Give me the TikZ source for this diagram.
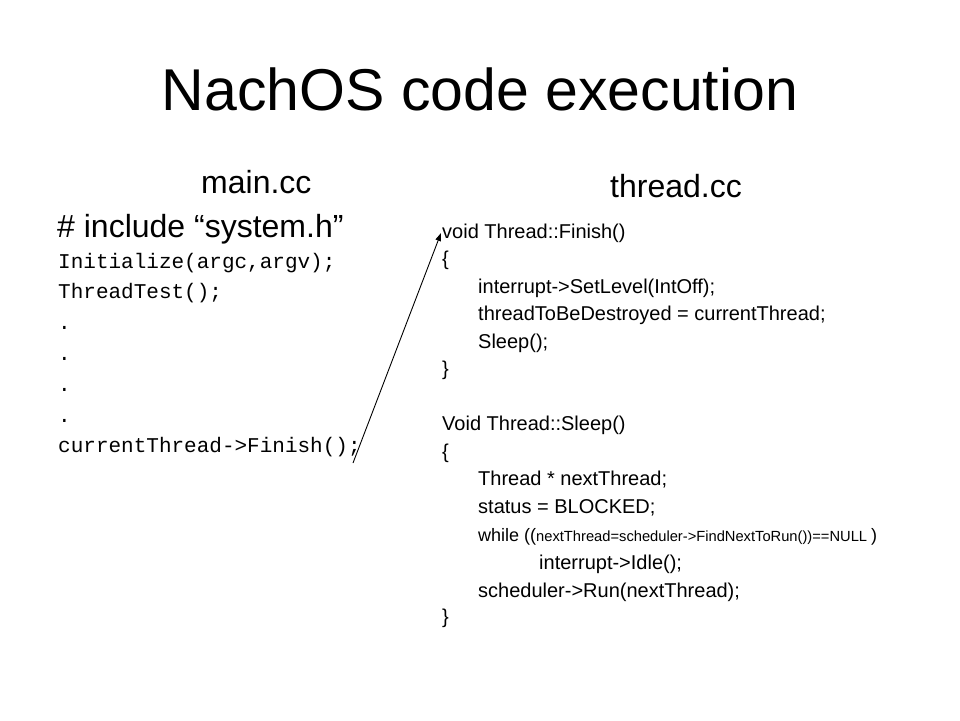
\documentclass[tikz,border=0pt]{standalone}
\usepackage{fontspec}
\setmainfont{Liberation Sans}
\setmonofont{Liberation Mono}
\usetikzlibrary{arrows.meta}
\begin{document}
\begin{tikzpicture}[x=1pt,y=-1pt,
  ttl/.style={anchor=base, inner sep=0pt, font=\fontsize{59}{70}\selectfont},
  head/.style={anchor=base west, inner sep=0pt, font=\fontsize{32}{38}\selectfont},
  code/.style={anchor=base west, inner sep=0pt, font=\ttfamily\fontsize{21}{25}\selectfont},
  rtxt/.style={anchor=base west, inner sep=0pt, font=\fontsize{20}{24}\selectfont},
  link/.style={line width=0.9pt, -{Triangle[length=8pt,width=5.5pt]}}]
\useasboundingbox (0,0) rectangle (960,720);
\fill[white] (0,0) rectangle (960,720);
% title
\node[ttl] (title) at (480,110) {NachOS code execution};
% left column
\node[head] (mainh) at (201,193) {main.cc};
\node[head] (incl) at (57,237) {\# include “system.h”};
\node[code] (l1) at (58,268) {Initialize(argc,argv);};
\node[code] (l2) at (58,298.8) {ThreadTest();};
\node[code] (l3) at (58,329.6) {.};
\node[code] (l4) at (58,360.4) {.};
\node[code] (l5) at (58,391.2) {.};
\node[code] (l6) at (58,422) {.};
\node[code] (l7) at (58,452.8) {currentThread->Finish();};
% right column
\node[head] (threadh) at (610,197) {thread.cc};
\node[rtxt] (r1) at (442,238) {void Thread::Finish()};
\node[rtxt] (r2) at (442,265.5) {\{};
\node[rtxt] (r3) at (478,293) {interrupt->SetLevel(IntOff);};
\node[rtxt] (r4) at (478,320.5) {threadToBeDestroyed = currentThread;};
\node[rtxt] (r5) at (478,348) {Sleep();};
\node[rtxt] (r6) at (442,375.5) {\}};
\node[rtxt] (r7) at (442,430.5) {Void Thread::Sleep()};
\node[rtxt] (r8) at (442,458) {\{};
\node[rtxt] (r9) at (478,485.5) {Thread * nextThread;};
\node[rtxt] (r10) at (478,513) {status = BLOCKED;};
\node[rtxt] (r11) at (478,541.5) {{\fontsize{18}{22}\selectfont while ((}{\fontsize{14.7}{17}\selectfont nextThread=scheduler->FindNextToRun())==NULL }{\fontsize{18}{22}\selectfont )}};
\node[rtxt] (r12) at (539,569) {interrupt->Idle();};
\node[rtxt] (r13) at (478,597) {scheduler->Run(nextThread);};
\node[rtxt] (r14) at (442,623) {\}};
% connector
\coordinate (src) at (353,463);
\coordinate (dst) at (441,233);
\draw[link] (src) -- (dst);
\end{tikzpicture}
\end{document}
